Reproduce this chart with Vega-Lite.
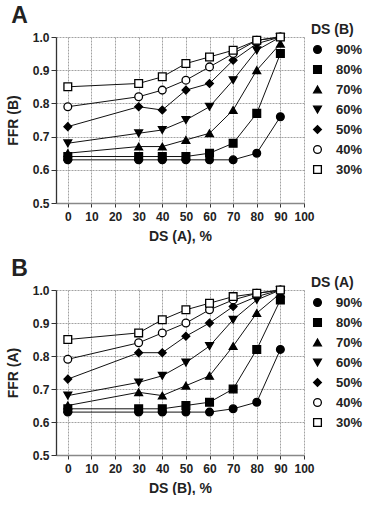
{
  "$schema": "https://vega.github.io/schema/vega-lite/v6.json",
  "background": "white",
  "padding": {"left": 6, "top": 5, "right": 0, "bottom": 0},
  "spacing": 15,
  "config": {
    "font": "Liberation Sans",
    "view": {"stroke": null},
    "axis": {
      "labelFont": "Liberation Sans", "labelFontWeight": "bold", "labelFontSize": 12, "labelColor": "#222", "labelOverlap": false, "labelFlush": false,
      "titleFont": "Liberation Sans", "titleFontWeight": "bold", "titleFontSize": 14, "titleColor": "#222",
      "gridColor": "#8a8a8a", "gridDash": [2, 1], "gridWidth": 0.8,
      "tickColor": "#333", "tickSize": 5, "domainColor": "#333", "domainWidth": 1.3, "labelPadding": 2
    },
    "legend": {
      "titleFont": "Liberation Sans", "titleFontWeight": "bold", "titleFontSize": 14, "titleColor": "#222",
      "labelFont": "Liberation Sans", "labelFontWeight": "bold", "labelFontSize": 13, "labelColor": "#222",
      "symbolSize": 60, "symbolStrokeColor": "black", "symbolStrokeWidth": 1.3, "rowPadding": 6, "labelOffset": 12, "titlePadding": 6
    },
    "title": {"font": "Liberation Sans", "fontSize": 23, "fontWeight": "bold", "color": "#222", "anchor": "start", "frame": "bounds", "offset": -5}
  },
  "vconcat": [
    {
      "title": {"text": "A", "dx": 5},
      "width": 248, "height": 166,
      "data": {"values": [
        {"x": 0, "y": 0.63, "s": "90%"}, {"x": 30, "y": 0.63, "s": "90%"}, {"x": 40, "y": 0.63, "s": "90%"}, {"x": 50, "y": 0.63, "s": "90%"}, {"x": 60, "y": 0.63, "s": "90%"}, {"x": 70, "y": 0.63, "s": "90%"}, {"x": 80, "y": 0.65, "s": "90%"}, {"x": 90, "y": 0.76, "s": "90%"},
        {"x": 0, "y": 0.64, "s": "80%"}, {"x": 30, "y": 0.64, "s": "80%"}, {"x": 40, "y": 0.64, "s": "80%"}, {"x": 50, "y": 0.64, "s": "80%"}, {"x": 60, "y": 0.65, "s": "80%"}, {"x": 70, "y": 0.68, "s": "80%"}, {"x": 80, "y": 0.77, "s": "80%"}, {"x": 90, "y": 0.95, "s": "80%"},
        {"x": 0, "y": 0.65, "s": "70%"}, {"x": 30, "y": 0.67, "s": "70%"}, {"x": 40, "y": 0.67, "s": "70%"}, {"x": 50, "y": 0.69, "s": "70%"}, {"x": 60, "y": 0.71, "s": "70%"}, {"x": 70, "y": 0.78, "s": "70%"}, {"x": 80, "y": 0.90, "s": "70%"}, {"x": 90, "y": 0.98, "s": "70%"},
        {"x": 0, "y": 0.68, "s": "60%"}, {"x": 30, "y": 0.71, "s": "60%"}, {"x": 40, "y": 0.72, "s": "60%"}, {"x": 50, "y": 0.75, "s": "60%"}, {"x": 60, "y": 0.79, "s": "60%"}, {"x": 70, "y": 0.87, "s": "60%"}, {"x": 80, "y": 0.96, "s": "60%"}, {"x": 90, "y": 1.0, "s": "60%"},
        {"x": 0, "y": 0.73, "s": "50%"}, {"x": 30, "y": 0.79, "s": "50%"}, {"x": 40, "y": 0.78, "s": "50%"}, {"x": 50, "y": 0.84, "s": "50%"}, {"x": 60, "y": 0.86, "s": "50%"}, {"x": 70, "y": 0.93, "s": "50%"}, {"x": 80, "y": 0.98, "s": "50%"}, {"x": 90, "y": 1.0, "s": "50%"},
        {"x": 0, "y": 0.79, "s": "40%"}, {"x": 30, "y": 0.82, "s": "40%"}, {"x": 40, "y": 0.84, "s": "40%"}, {"x": 50, "y": 0.87, "s": "40%"}, {"x": 60, "y": 0.91, "s": "40%"}, {"x": 70, "y": 0.95, "s": "40%"}, {"x": 80, "y": 0.99, "s": "40%"}, {"x": 90, "y": 1.0, "s": "40%"},
        {"x": 0, "y": 0.85, "s": "30%"}, {"x": 30, "y": 0.86, "s": "30%"}, {"x": 40, "y": 0.88, "s": "30%"}, {"x": 50, "y": 0.92, "s": "30%"}, {"x": 60, "y": 0.94, "s": "30%"}, {"x": 70, "y": 0.96, "s": "30%"}, {"x": 80, "y": 0.99, "s": "30%"}, {"x": 90, "y": 1.0, "s": "30%"}
      ]},
      "encoding": {
        "x": {"field": "x", "type": "quantitative", "title": "DS (A), %",
          "scale": {"domain": [-5, 100], "nice": false, "zero": false},
          "axis": {"values": [0, 10, 20, 30, 40, 50, 60, 70, 80, 90, 100], "grid": true, "domainColor": "#888", "tickSize": 4, "labelPadding": 4, "titlePadding": 7}},
        "y": {"field": "y", "type": "quantitative", "title": "FFR (B)",
          "scale": {"domain": [0.5, 1.0], "nice": false, "zero": false},
          "axis": {"values": [0.5, 0.6, 0.7, 0.8, 0.9, 1.0], "format": ".1f", "grid": true, "titlePadding": 12}}
      },
      "layer": [
        {"mark": {"type": "line", "color": "#111", "strokeWidth": 1}, "encoding": {"detail": {"field": "s"}}},
        {"mark": {"type": "point", "strokeWidth": 1.3, "opacity": 1, "size": 60},
          "encoding": {
            "shape": {"field": "s", "type": "nominal", "title": "DS (B)",
              "scale": {"domain": ["90%", "80%", "70%", "60%", "50%", "40%", "30%"], "range": ["circle", "square", "triangle-up", "triangle-down", "diamond", "circle", "square"]},
              "legend": {"orient": "none", "legendX": 255, "legendY": -14}},
            "fill": {"field": "s", "type": "nominal", "title": "DS (B)",
              "scale": {"domain": ["90%", "80%", "70%", "60%", "50%", "40%", "30%"], "range": ["black", "black", "black", "black", "black", "white", "white"]},
              "legend": {"orient": "none", "legendX": 255, "legendY": -14}},
            "stroke": {"field": "s", "type": "nominal", "title": "DS (B)",
              "scale": {"domain": ["90%", "80%", "70%", "60%", "50%", "40%", "30%"], "range": ["black", "black", "black", "black", "black", "black", "black"]},
              "legend": {"orient": "none", "legendX": 255, "legendY": -14}}
          }}
      ]
    },
    {
      "title": {"text": "B", "dx": 5},
      "width": 248, "height": 165,
      "data": {"values": [
        {"x": 0, "y": 0.63, "s": "90%"}, {"x": 30, "y": 0.63, "s": "90%"}, {"x": 40, "y": 0.63, "s": "90%"}, {"x": 50, "y": 0.63, "s": "90%"}, {"x": 60, "y": 0.63, "s": "90%"}, {"x": 70, "y": 0.64, "s": "90%"}, {"x": 80, "y": 0.66, "s": "90%"}, {"x": 90, "y": 0.82, "s": "90%"},
        {"x": 0, "y": 0.64, "s": "80%"}, {"x": 30, "y": 0.64, "s": "80%"}, {"x": 40, "y": 0.64, "s": "80%"}, {"x": 50, "y": 0.65, "s": "80%"}, {"x": 60, "y": 0.66, "s": "80%"}, {"x": 70, "y": 0.70, "s": "80%"}, {"x": 80, "y": 0.82, "s": "80%"}, {"x": 90, "y": 0.97, "s": "80%"},
        {"x": 0, "y": 0.65, "s": "70%"}, {"x": 30, "y": 0.69, "s": "70%"}, {"x": 40, "y": 0.68, "s": "70%"}, {"x": 50, "y": 0.71, "s": "70%"}, {"x": 60, "y": 0.74, "s": "70%"}, {"x": 70, "y": 0.83, "s": "70%"}, {"x": 80, "y": 0.93, "s": "70%"}, {"x": 90, "y": 0.99, "s": "70%"},
        {"x": 0, "y": 0.68, "s": "60%"}, {"x": 30, "y": 0.72, "s": "60%"}, {"x": 40, "y": 0.74, "s": "60%"}, {"x": 50, "y": 0.78, "s": "60%"}, {"x": 60, "y": 0.83, "s": "60%"}, {"x": 70, "y": 0.91, "s": "60%"}, {"x": 80, "y": 0.97, "s": "60%"}, {"x": 90, "y": 1.0, "s": "60%"},
        {"x": 0, "y": 0.73, "s": "50%"}, {"x": 30, "y": 0.81, "s": "50%"}, {"x": 40, "y": 0.81, "s": "50%"}, {"x": 50, "y": 0.86, "s": "50%"}, {"x": 60, "y": 0.90, "s": "50%"}, {"x": 70, "y": 0.95, "s": "50%"}, {"x": 80, "y": 0.98, "s": "50%"}, {"x": 90, "y": 1.0, "s": "50%"},
        {"x": 0, "y": 0.79, "s": "40%"}, {"x": 30, "y": 0.84, "s": "40%"}, {"x": 40, "y": 0.87, "s": "40%"}, {"x": 50, "y": 0.90, "s": "40%"}, {"x": 60, "y": 0.94, "s": "40%"}, {"x": 70, "y": 0.97, "s": "40%"}, {"x": 80, "y": 0.99, "s": "40%"}, {"x": 90, "y": 1.0, "s": "40%"},
        {"x": 0, "y": 0.85, "s": "30%"}, {"x": 30, "y": 0.87, "s": "30%"}, {"x": 40, "y": 0.91, "s": "30%"}, {"x": 50, "y": 0.94, "s": "30%"}, {"x": 60, "y": 0.96, "s": "30%"}, {"x": 70, "y": 0.98, "s": "30%"}, {"x": 80, "y": 0.99, "s": "30%"}, {"x": 90, "y": 1.0, "s": "30%"}
      ]},
      "encoding": {
        "x": {"field": "x", "type": "quantitative", "title": "DS (B), %",
          "scale": {"domain": [-5, 100], "nice": false, "zero": false},
          "axis": {"values": [0, 10, 20, 30, 40, 50, 60, 70, 80, 90, 100], "grid": true, "domainColor": "#888", "tickSize": 4, "labelPadding": 4, "titlePadding": 7}},
        "y": {"field": "y", "type": "quantitative", "title": "FFR (A)",
          "scale": {"domain": [0.5, 1.0], "nice": false, "zero": false},
          "axis": {"values": [0.5, 0.6, 0.7, 0.8, 0.9, 1.0], "format": ".1f", "grid": true, "titlePadding": 12}}
      },
      "layer": [
        {"mark": {"type": "line", "color": "#111", "strokeWidth": 1}, "encoding": {"detail": {"field": "s"}}},
        {"mark": {"type": "point", "strokeWidth": 1.3, "opacity": 1, "size": 60},
          "encoding": {
            "shape": {"field": "s", "type": "nominal", "title": "DS (A)",
              "scale": {"domain": ["90%", "80%", "70%", "60%", "50%", "40%", "30%"], "range": ["circle", "square", "triangle-up", "triangle-down", "diamond", "circle", "square"]},
              "legend": {"orient": "none", "legendX": 255, "legendY": -14}},
            "fill": {"field": "s", "type": "nominal", "title": "DS (A)",
              "scale": {"domain": ["90%", "80%", "70%", "60%", "50%", "40%", "30%"], "range": ["black", "black", "black", "black", "black", "white", "white"]},
              "legend": {"orient": "none", "legendX": 255, "legendY": -14}},
            "stroke": {"field": "s", "type": "nominal", "title": "DS (A)",
              "scale": {"domain": ["90%", "80%", "70%", "60%", "50%", "40%", "30%"], "range": ["black", "black", "black", "black", "black", "black", "black"]},
              "legend": {"orient": "none", "legendX": 255, "legendY": -14}}
          }}
      ]
    }
  ],
  "resolve": {"scale": {"shape": "independent", "fill": "independent", "stroke": "independent"}, "legend": {"shape": "independent", "fill": "independent", "stroke": "independent"}}
}
